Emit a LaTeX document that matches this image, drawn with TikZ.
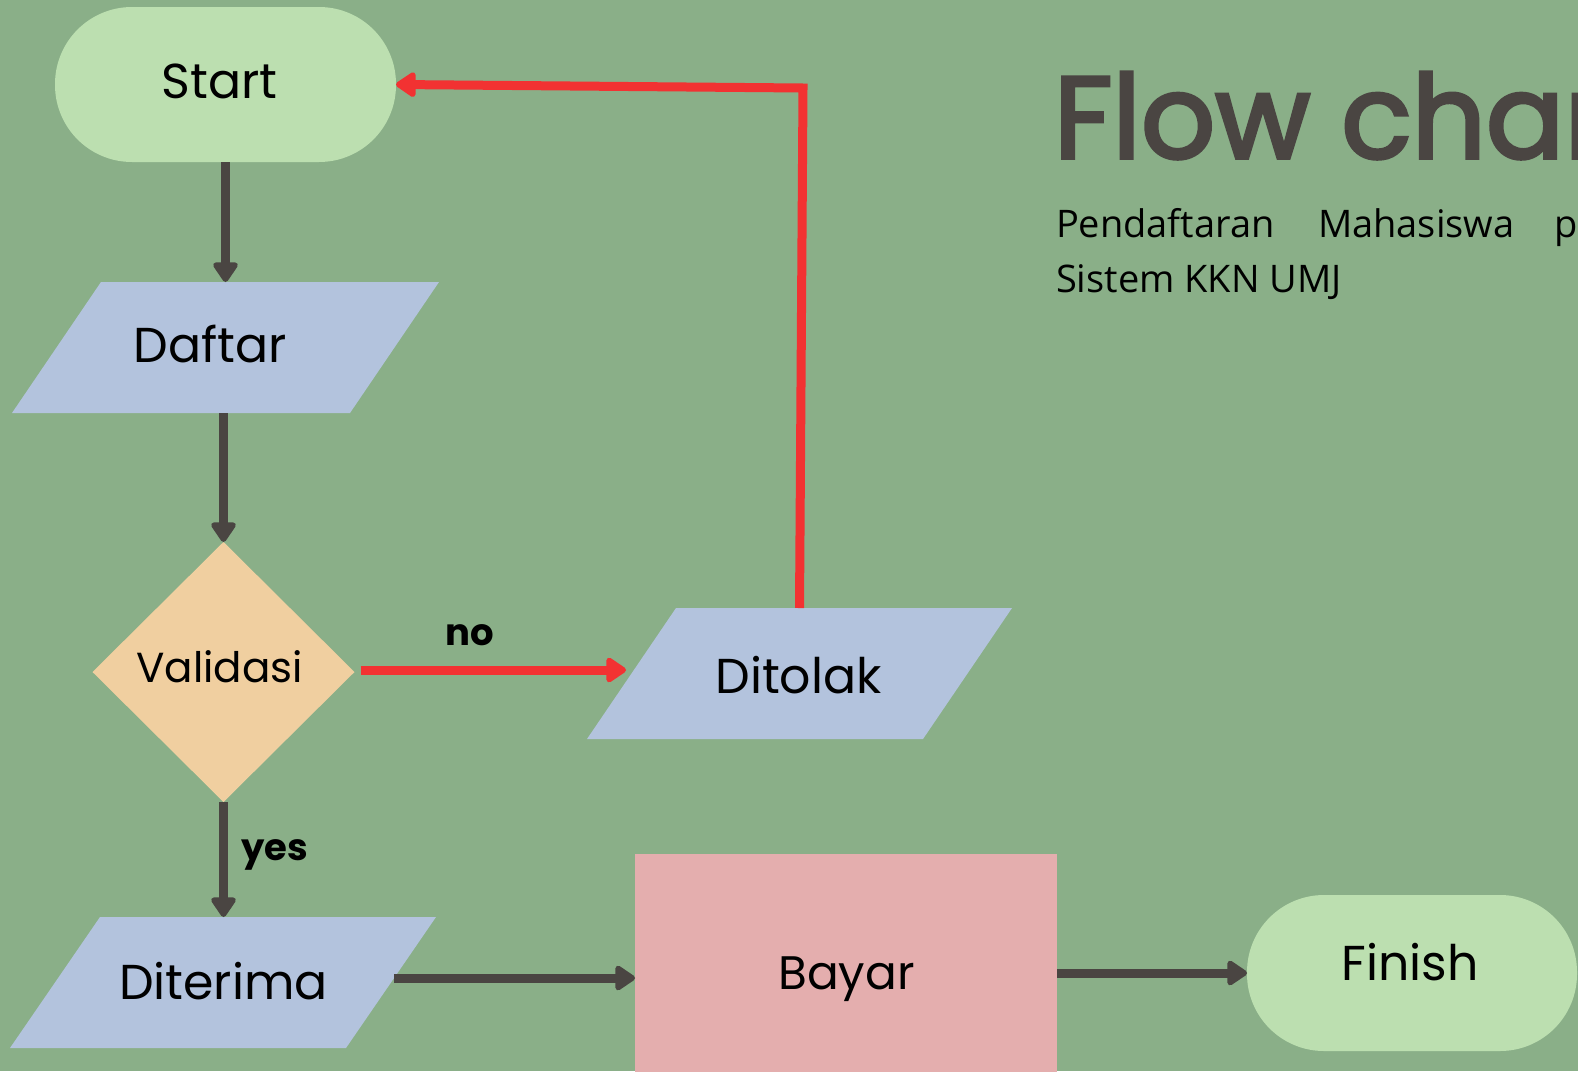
\documentclass[tikz,border=0pt]{standalone}
\usepackage{fontspec}
\setmainfont{Poppins}
\newfontfamily\subfont{Open Sans}
\newfontfamily\titlefont[FakeBold=3]{Poppins}
\usetikzlibrary{arrows.meta,shapes.geometric,calc}
\definecolor{bg}{HTML}{8AAF88}
\definecolor{termc}{HTML}{BCDFB0}
\definecolor{parac}{HTML}{B3C3DD}
\definecolor{diac}{HTML}{F0CFA0}
\definecolor{procc}{HTML}{E4AEAE}
\definecolor{darkc}{HTML}{4A4542}
\definecolor{redc}{HTML}{F23232}
\begin{document}
\begin{tikzpicture}[x=1pt,y=-1pt,
  every node/.style={inner sep=0pt,outer sep=0pt},
  term/.style={fill=termc,rounded corners=77pt},
  parabox/.style={minimum width=427pt,minimum height=131pt},
  dia/.style={diamond,fill=diac,minimum width=262pt,minimum height=260pt,aspect=1},
  proc/.style={fill=procc},
  txt/.style={anchor=base,font=\fontsize{49}{54}\selectfont},
  darrow/.style={draw=darkc,line width=9pt,-{Triangle[length=22pt,width=28pt,round]}},
  rarrow/.style={draw=redc,line width=9pt,-{Triangle[length=22pt,width=28pt,round]}},
  lbl/.style={anchor=base,font=\fontsize{37}{40}\selectfont\bfseries}
]
\useasboundingbox (0,0) rectangle (1578,1071);
\clip (0,0) rectangle (1578,1071);
\fill[bg] (0,0) rectangle (1578,1071);

% title
\node[anchor=base west,text=darkc,font=\titlefont\fontsize{116}{120}\selectfont] (title) at (1054,158) {Flow chart};
\node[anchor=base west,font=\subfont\fontsize{38}{44}\selectfont] (s1) at (1056,237) {Pendaftaran};
\node[anchor=base west,font=\subfont\fontsize{38}{44}\selectfont] (s2) at (1318,237) {Mahasiswa};
\node[anchor=base west,font=\subfont\fontsize{38}{44}\selectfont] (s3) at (1554,237) {pada};
\node[anchor=base west,font=\subfont\fontsize{38}{44}\selectfont] (s4) at (1056,292) {Sistem KKN UMJ};

% Start
\node[term,minimum width=341pt,minimum height=155pt] (start) at (225.5,84.5) {};
\node[txt] (startT) at (219.5,98) {Start};

% Daftar parallelogram
\node[parabox] (daftar) at (225.5,347.5) {};
\fill[parac] ($(daftar.north west)+(89,0)$) -- (daftar.north east) -- ($(daftar.south east)+(-89,0)$) -- (daftar.south west) -- cycle;
\node[txt] (daftarT) at (210,362) {Daftar};

% Validasi
\node[dia] (valid) at (223.5,672) {};
\node[txt,font=\fontsize{42}{48}\selectfont] (validT) at (219.5,682) {Validasi};

% Ditolak
\node[parabox,minimum width=425pt] (tolak) at (799.5,673.5) {};
\fill[parac] ($(tolak.north west)+(89,0)$) -- (tolak.north east) -- ($(tolak.south east)+(-89,0)$) -- (tolak.south west) -- cycle;
\node[txt] (tolakT) at (798.5,693) {Ditolak};

% Diterima
\node[parabox,minimum width=426pt] (terima) at (223,982.5) {};
\fill[parac] ($(terima.north west)+(90,0)$) -- (terima.north east) -- ($(terima.south east)+(-90,0)$) -- (terima.south west) -- cycle;
\node[txt] (terimaT) at (223.5,999) {Diterima};

% Bayar
\node[proc,minimum width=422pt,minimum height=236pt] (bayar) at (846,972) {};
\node[txt,font=\fontsize{47}{52}\selectfont] (bayarT) at (846.5,989) {Bayar};

% Finish
\node[term,minimum width=330pt,minimum height=156pt] (finish) at (1412,973) {};
\node[txt] (finishT) at (1410,980) {Finish};

% coordinates
\coordinate (corner) at (803,88);
\coordinate (terimaR) at (394,978);
\coordinate (tolakL) at (634,670);

% connectors
\draw[darrow] (start.south) -- (start.south |- daftar.north);
\draw[darrow] (daftar.south -| valid.north) -- (valid.north);
\draw[rarrow,shorten >=8pt] ([xshift=6pt]valid.east |- tolakL) -- (tolakL);
\draw[rarrow,line join=miter] (tolak.north) -- (corner) -- (start.east);
\draw[darrow] (valid.south) -- (valid.south |- terima.north);
\draw[darrow] (terimaR) -- (bayar.west |- terimaR);
\draw[darrow] (bayar.east |- finish.west) -- (finish.west);

% labels
\node[lbl] (no) at (470,645) {no};
\node[lbl] (yes) at (275,860) {yes};
\end{tikzpicture}
\end{document}
